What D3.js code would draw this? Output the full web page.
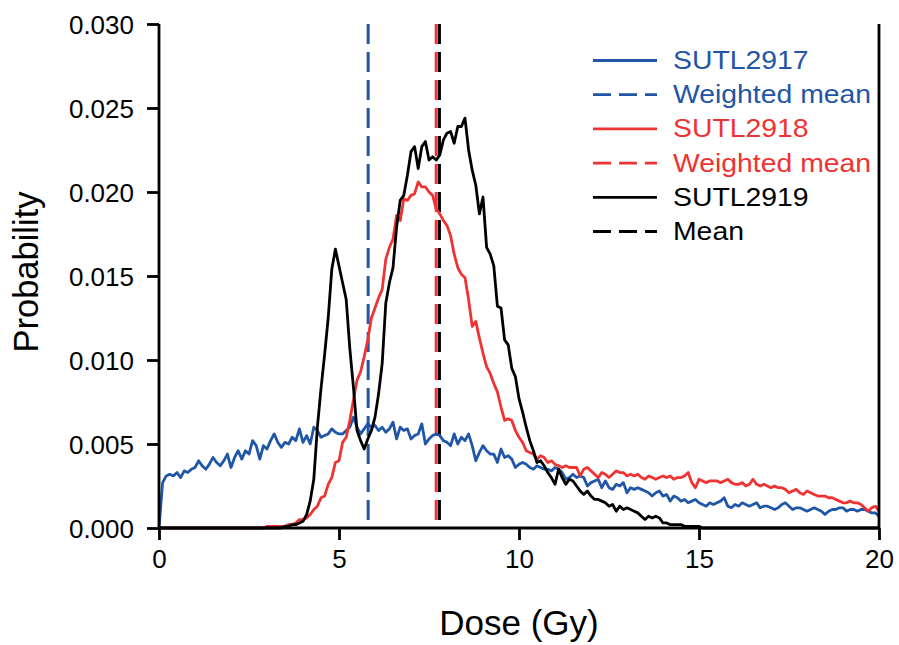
<!DOCTYPE html>
<html>
<head>
<meta charset="utf-8">
<script src="https://cdn.jsdelivr.net/npm/d3@7"></script>
<style>
  html, body { margin: 0; padding: 0; background: #fff; }
  svg text { font-family: "Liberation Sans", Arial, sans-serif; }
</style>
</head>
<body>
<svg id="chart" width="899" height="645"></svg>
<script>
// Dose bins (Gy): 0.0, 0.1, ... 20.0
const doseStart = 0, doseStep = 0.1, binCount = 201;

// Probability per dose bin
const sutl2917 = [
  0.0000,0.0027,0.0031,0.0032,0.0031,0.0033,0.0030,0.0034,0.0033,0.0035,
  0.0036,0.0040,0.0037,0.0035,0.0038,0.0042,0.0039,0.0037,0.0040,0.0044,
  0.0036,0.0042,0.0046,0.0041,0.0046,0.0044,0.0052,0.0049,0.0041,0.0049,
  0.0047,0.0052,0.0056,0.0051,0.0048,0.0051,0.0050,0.0054,0.0052,0.0059,
  0.0051,0.0055,0.0050,0.0060,0.0058,0.0054,0.0055,0.0056,0.0059,0.0057,
  0.0056,0.0056,0.0058,0.0060,0.0066,0.0060,0.0056,0.0059,0.0062,0.0060,
  0.0061,0.0058,0.0060,0.0057,0.0059,0.0063,0.0053,0.0060,0.0058,0.0059,
  0.0053,0.0055,0.0056,0.0062,0.0050,0.0053,0.0055,0.0056,0.0055,0.0052,
  0.0051,0.0049,0.0056,0.0050,0.0054,0.0052,0.0056,0.0049,0.0040,0.0045,
  0.0049,0.0046,0.0044,0.0044,0.0039,0.0047,0.0042,0.0043,0.0041,0.0036,
  0.0038,0.0039,0.0038,0.0036,0.0035,0.0037,0.0036,0.0035,0.0035,0.0034,
  0.0036,0.0035,0.0033,0.0029,0.0030,0.0032,0.0030,0.0031,0.0030,0.0025,
  0.0027,0.0028,0.0029,0.0024,0.0028,0.0024,0.0023,0.0026,0.0025,0.0027,
  0.0021,0.0024,0.0023,0.0024,0.0023,0.0022,0.0021,0.0019,0.0021,0.0022,
  0.0019,0.0020,0.0016,0.0019,0.0018,0.0016,0.0017,0.0015,0.0016,0.0017,
  0.0015,0.0014,0.0013,0.0015,0.0014,0.0015,0.0016,0.0018,0.0013,0.0012,
  0.0014,0.0013,0.0015,0.0014,0.0013,0.0014,0.0015,0.0012,0.0013,0.0013,
  0.0012,0.0011,0.0012,0.0014,0.0015,0.0013,0.0011,0.0012,0.0012,0.0011,
  0.0010,0.0011,0.0012,0.0011,0.0010,0.0008,0.0010,0.0011,0.0011,0.0012,
  0.0012,0.0010,0.0011,0.0011,0.0010,0.0011,0.0011,0.0010,0.0009,0.0009,
  0.0007
];

const sutl2918 = [
  0.0000,0.0000,0.0000,0.0000,0.0000,0.0000,0.0000,0.0000,0.0000,0.0000,
  0.0000,0.0000,0.0000,0.0000,0.0000,0.0000,0.0000,0.0000,0.0000,0.0000,
  0.0000,0.0000,0.0000,0.0000,0.0000,0.0000,0.0000,0.0000,0.0000,0.0000,
  0.0001,0.0001,0.0001,0.0001,0.0001,0.0001,0.0002,0.0002,0.0003,0.0005,
  0.0005,0.0006,0.0008,0.0011,0.0013,0.0018,0.0019,0.0026,0.0030,0.0039,
  0.0040,0.0051,0.0054,0.0064,0.0076,0.0088,0.0093,0.0102,0.0112,0.0125,
  0.0131,0.0137,0.0142,0.0160,0.0167,0.0172,0.0186,0.0183,0.0196,0.0195,
  0.0198,0.0199,0.0206,0.0203,0.0203,0.0200,0.0198,0.0190,0.0187,0.0183,
  0.0180,0.0174,0.0163,0.0155,0.0151,0.0149,0.0136,0.0120,0.0123,0.0113,
  0.0104,0.0096,0.0092,0.0086,0.0081,0.0072,0.0064,0.0065,0.0064,0.0058,
  0.0054,0.0051,0.0046,0.0045,0.0044,0.0041,0.0043,0.0042,0.0039,0.0040,
  0.0038,0.0037,0.0036,0.0037,0.0036,0.0036,0.0036,0.0031,0.0035,0.0036,
  0.0034,0.0032,0.0030,0.0033,0.0032,0.0030,0.0032,0.0034,0.0033,0.0033,
  0.0031,0.0032,0.0031,0.0032,0.0030,0.0029,0.0031,0.0030,0.0029,0.0030,
  0.0031,0.0030,0.0031,0.0029,0.0030,0.0030,0.0031,0.0033,0.0027,0.0024,
  0.0029,0.0028,0.0027,0.0028,0.0028,0.0028,0.0027,0.0028,0.0029,0.0027,
  0.0026,0.0026,0.0027,0.0025,0.0026,0.0029,0.0026,0.0025,0.0026,0.0025,
  0.0024,0.0025,0.0024,0.0024,0.0023,0.0021,0.0022,0.0023,0.0021,0.0020,
  0.0022,0.0021,0.0020,0.0019,0.0019,0.0019,0.0018,0.0018,0.0017,0.0016,
  0.0015,0.0015,0.0016,0.0015,0.0015,0.0014,0.0012,0.0010,0.0012,0.0013,
  0.0010
];

const sutl2919 = [
  0.0000,0.0000,0.0000,0.0000,0.0000,0.0000,0.0000,0.0000,0.0000,0.0000,
  0.0000,0.0000,0.0000,0.0000,0.0000,0.0000,0.0000,0.0000,0.0000,0.0000,
  0.0000,0.0000,0.0000,0.0000,0.0000,0.0000,0.0000,0.0000,0.0000,0.0000,
  0.0000,0.0000,0.0000,0.0000,0.0000,0.0001,0.0001,0.0002,0.0002,0.0003,
  0.0004,0.0008,0.0016,0.0029,0.0060,0.0083,0.0103,0.0125,0.0154,0.0166,
  0.0156,0.0146,0.0136,0.0107,0.0084,0.0058,0.0052,0.0047,0.0053,0.0058,
  0.0066,0.0080,0.0098,0.0134,0.0146,0.0155,0.0179,0.0195,0.0198,0.0210,
  0.0224,0.0227,0.0214,0.0227,0.0230,0.0219,0.0221,0.0219,0.0222,0.0231,
  0.0235,0.0236,0.0229,0.0239,0.0239,0.0244,0.0225,0.0213,0.0204,0.0187,
  0.0197,0.0167,0.0163,0.0156,0.0132,0.0131,0.0112,0.0109,0.0095,0.0090,
  0.0077,0.0069,0.0060,0.0052,0.0046,0.0039,0.0040,0.0037,0.0033,0.0030,
  0.0026,0.0035,0.0030,0.0026,0.0029,0.0028,0.0025,0.0022,0.0020,0.0022,
  0.0019,0.0017,0.0017,0.0016,0.0015,0.0013,0.0014,0.0010,0.0013,0.0011,
  0.0012,0.0011,0.0010,0.0009,0.0007,0.0005,0.0007,0.0006,0.0007,0.0006,
  0.0003,0.0003,0.0002,0.0002,0.0002,0.0002,0.0001,0.0001,0.0001,0.0001,
  0.0001,0.0000,0.0000,0.0000,0.0000,0.0000,0.0000,0.0000,0.0000,0.0000,
  0.0000,0.0000,0.0000,0.0000,0.0000,0.0000,0.0000,0.0000,0.0000,0.0000,
  0.0000,0.0000,0.0000,0.0000,0.0000,0.0000,0.0000,0.0000,0.0000,0.0000,
  0.0000,0.0000,0.0000,0.0000,0.0000,0.0000,0.0000,0.0000,0.0000,0.0000,
  0.0000,0.0000,0.0000,0.0000,0.0000,0.0000,0.0000,0.0000,0.0000,0.0000,
  0.0000
];

// Mean doses (Gy)
const meanDoses = [5.81, 7.70, 7.79];

const seriesNames = ["SUTL2917", "SUTL2918", "SUTL2919"];
const meanNames = ["Weighted mean", "Weighted mean", "Mean"];
const xTicks = [0, 5, 10, 15, 20];
const yTicks = [0.000, 0.005, 0.010, 0.015, 0.020, 0.025, 0.030];

const colors = ["#1f56a6", "#ef3333", "#000000"];

const svg = d3.select("#chart");
const margin = { left: 159, right: 20, top: 24, bottom: 117 };
const W = 899, H = 645;
const strokeW = 2.8;

const x = d3.scaleLinear().domain([0, 20]).range([margin.left, W - margin.right]);
const y = d3.scaleLinear().domain([0, 0.03]).range([H - margin.bottom, margin.top]);

const allSeries = [sutl2917, sutl2918, sutl2919].map(vals =>
  vals.map((v, i) => ({ dose: doseStart + i * doseStep, p: v }))
);

const line = d3.line().x(d => x(d.dose)).y(d => y(d.p));

const plot = svg.append("g");

// Mean dose markers (dashed verticals)
meanDoses.forEach((m, i) => {
  plot.append("line")
    .attr("x1", x(m)).attr("x2", x(m))
    .attr("y1", y(0.03)).attr("y2", y(0))
    .attr("stroke", colors[i])
    .attr("stroke-width", 3)
    .attr("stroke-dasharray", "20,8");
});

// Dose distributions
allSeries.forEach((s, i) => {
  plot.append("path")
    .datum(s)
    .attr("d", line)
    .attr("fill", "none")
    .attr("stroke", colors[i])
    .attr("stroke-width", strokeW)
    .attr("stroke-linejoin", "round");
});

// Axes
const xAxis = d3.axisBottom(x).tickValues(xTicks).tickSize(12).tickPadding(10)
  .tickFormat(d3.format("d"));
const yAxis = d3.axisLeft(y).tickValues(yTicks).tickSize(12).tickPadding(13)
  .tickFormat(d3.format(".3f"));

const gx = svg.append("g").attr("transform", `translate(0,${y(0)})`).call(xAxis);
const gy = svg.append("g").attr("transform", `translate(${x(0)},0)`).call(yAxis);

[gx, gy].forEach(g => {
  g.select(".domain").attr("stroke", "#000").attr("stroke-width", strokeW);
  g.selectAll(".tick line").attr("stroke", "#000").attr("stroke-width", strokeW);
  g.selectAll(".tick text")
    .attr("fill", "#000")
    .style("font-size", "26px")
    .style("font-family", "'Liberation Sans', Arial, sans-serif");
});
gx.select(".domain").attr("d", `M${x(0)},0H${x(20)}`);
gy.select(".domain").attr("d", `M0,${y(0.03)}V${y(0)}`);
gy.selectAll(".tick text").attr("dy", "0.36em");

// Right frame line
svg.append("line")
  .attr("x1", x(20)).attr("x2", x(20))
  .attr("y1", y(0.03)).attr("y2", y(0))
  .attr("stroke", "#000").attr("stroke-width", strokeW);

// Axis titles
svg.append("text")
  .attr("x", 519).attr("y", 635)
  .attr("text-anchor", "middle")
  .style("font-size", "35px")
  .text("Dose (Gy)");

svg.append("text")
  .attr("transform", `translate(38,272) rotate(-90)`)
  .attr("text-anchor", "middle")
  .style("font-size", "34.5px")
  .text("Probability");

// Legend
const legendItems = [
  { label: seriesNames[0], color: colors[0], dash: null },
  { label: meanNames[0], color: colors[0], dash: "18,8" },
  { label: seriesNames[1], color: colors[1], dash: null },
  { label: meanNames[1], color: colors[1], dash: "18,8" },
  { label: seriesNames[2], color: colors[2], dash: null },
  { label: meanNames[2], color: colors[2], dash: "18,8" }
];
const legend = svg.append("g");
legendItems.forEach((d, i) => {
  const base = 69 + i * 34.2;
  legend.append("line")
    .attr("x1", 593).attr("x2", 657)
    .attr("y1", base - 8.5).attr("y2", base - 8.5)
    .attr("stroke", d.color).attr("stroke-width", strokeW)
    .attr("stroke-dasharray", d.dash);
  legend.append("text")
    .attr("transform", `translate(673,${base}) scale(1.07,1)`)
    .attr("fill", d.color)
    .style("font-size", "26.5px")
    .text(d.label);
});
</script>
</body>
</html>
